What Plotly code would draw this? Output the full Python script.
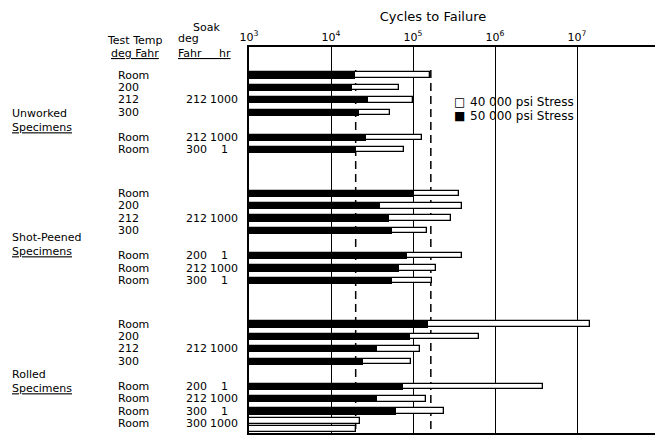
import plotly.graph_objects as go

# ---------------- data ----------------
group_names = ["Unworked", "Shot-Peened", "Rolled"]
row_group = [0, 0, 0, 0, 0, 0,
             1, 1, 1, 1, 1, 1, 1,
             2, 2, 2, 2, 2, 2, 2, 2]
row_block = [0, 0, 0, 0, 1, 1,
             0, 0, 0, 0, 1, 1, 1,
             0, 0, 0, 0, 1, 1, 1, 1]
test_temp = ["Room", "200", "212", "300", "Room", "Room",
             "Room", "200", "212", "300", "Room", "Room", "Room",
             "Room", "200", "212", "300", "Room", "Room", "Room", "Room"]
soak_temp = ["", "", "212", "", "212", "300",
             "", "", "212", "", "200", "212", "300",
             "", "", "212", "", "200", "212", "300", "300"]
soak_hr = ["", "", "1000", "", "1000", "1",
           "", "", "1000", "", "1", "1000", "1",
           "", "", "1000", "", "1", "1000", "1", "1000"]

# cycles to failure at 40 000 psi (open bars) and 50 000 psi (solid bars)
cycles_40k = [1.6e5, 6.8e4, 1.0e5, 5.3e4, 1.28e5, 7.8e4,
              3.6e5, 4.0e5, 2.9e5, 1.47e5, 4.0e5, 1.9e5, 1.69e5,
              1.44e7, 6.4e5, 1.22e5, 9.5e4, 3.9e6, 1.43e5, 2.39e5, 2.26e4]
cycles_40k_repeat = [None] * 20 + [2.0e4]
cycles_50k = [1.96e4, 1.79e4, 2.85e4, 2.2e4, 2.7e4, 2.0e4,
              1.03e5, 3.96e4, 5.1e4, 5.5e4, 8.5e4, 6.7e4, 5.6e4,
              1.54e5, 9.2e4, 3.6e4, 2.44e4, 7.5e4, 3.6e4, 6.2e4, None]

series_names = ["40 000 psi Stress", "50 000 psi Stress"]
dashed_levels = [2.0e4, 1.65e5]
tick_values = [1e3, 1e4, 1e5, 1e6, 1e7, 1e8]
tick_labels = ["10<sup>3</sup>", "10<sup>4</sup>", "10<sup>5</sup>",
               "10<sup>6</sup>", "10<sup>7</sup>", "10<sup>8</sup>"]

# ---------------- layout helpers ----------------
# the page body adds an 8px offset; the figure is sized so that the
# plot area lands at screen x 249..659, y 47..433 of the 663x435 window
OFF = 8
SW, SH = 663, 435
PL, PR, PT, PB = 249, 659, 47, 433
W, H = SW - OFF, SH - OFF
ML, MR, MT, MB = PL - OFF, SW - PR, PT - OFF, SH - PB
PW, PH = PR - PL, PB - PT
FONT = "DejaVu Sans"


def px_x(sx):
    return (sx - PL) / PW


def px_y(sy):
    return (PB - sy) / PH


# row positions (in row units) derived from the grouping
pos = []
p = 0.0
for i, (g, b) in enumerate(zip(row_group, row_block)):
    if i > 0:
        if g != row_group[i - 1]:
            p += 3.5
        elif b != row_block[i - 1]:
            p += 2.0
        else:
            p += 1.0
    pos.append(p)

y_top = pos[0] - 2.25
y_bot = pos[-1] + 0.75

open_w = 0.44
solid_w = 0.56
open_offset = [(-open_w / 2 if r is None else -0.42) for r in cycles_40k_repeat]

fig = go.Figure()
fig.add_trace(go.Bar(
    orientation="h", y=pos, x=cycles_40k, name=series_names[0],
    width=open_w, offset=open_offset, showlegend=False,
    marker=dict(color="white", line=dict(color="black", width=1.3)),
    hoverinfo="skip"))
fig.add_trace(go.Bar(
    orientation="h", y=pos, x=cycles_40k_repeat, name=series_names[0],
    width=open_w, offset=0.2, showlegend=False,
    marker=dict(color="white", line=dict(color="black", width=1.3)),
    hoverinfo="skip"))
fig.add_trace(go.Bar(
    orientation="h", y=pos, x=cycles_50k, name=series_names[1],
    width=solid_w, showlegend=False,
    marker=dict(color="black", line=dict(color="black", width=0)),
    hoverinfo="skip"))

shapes = []
for lvl in dashed_levels:
    shapes.append(dict(type="line", xref="x", yref="y", x0=lvl, x1=lvl,
                       y0=pos[0] - 0.4, y1=y_bot, layer="below",
                       line=dict(color="black", width=1.5, dash="8px,5px")))

ann = []
lab_font = dict(family=FONT, size=11, color="black")
for i, yp in enumerate(pos):
    if test_temp[i]:
        ann.append(dict(xref="paper", yref="y", x=px_x(116), y=yp, text=test_temp[i],
                        showarrow=False, xanchor="left", yanchor="middle", font=lab_font))
    if soak_temp[i]:
        ann.append(dict(xref="paper", yref="y", x=px_x(184), y=yp, text=soak_temp[i],
                        showarrow=False, xanchor="left", yanchor="middle", font=lab_font))
    if soak_hr[i]:
        ann.append(dict(xref="paper", yref="y", x=px_x(224), y=yp, text=soak_hr[i],
                        showarrow=False, xanchor="center", yanchor="middle", font=lab_font))

for gi, gname in enumerate(group_names):
    gpos = [yp for yp, g in zip(pos, row_group) if g == gi]
    ymid = (gpos[0] + gpos[-1]) / 2 + 0.65
    ann.append(dict(xref="paper", yref="y", x=px_x(10), y=ymid,
                    text=gname + "<br><u>Specimens</u>", align="left",
                    showarrow=False, xanchor="left", yanchor="middle", font=lab_font))

# column headers
hdr = [("Test Temp", 135, 41, "center"), ("<u>deg Fahr</u>", 135, 53, "center"),
       ("Soak", 206, 27, "center"), ("deg", 176, 39, "left"),
       ("<u>Fahr&nbsp;&nbsp;&nbsp;&nbsp;&nbsp;hr</u>", 176, 53, "left")]
for txt, hx, hy, anc in hdr:
    ann.append(dict(xref="paper", yref="paper", x=px_x(hx), y=px_y(hy), text=txt,
                    showarrow=False, xanchor=anc, yanchor="middle", font=lab_font))

# key (open / solid square + series name)
for k, (glyph, name) in enumerate(zip(["\u25a1", "\u25a0"], series_names)):
    ky = 102 + 14 * k
    ann.append(dict(xref="paper", yref="paper", x=px_x(466), y=px_y(ky), text=glyph,
                    showarrow=False, xanchor="right", yanchor="middle", borderpad=0,
                    font=dict(family=FONT, size=12, color="black")))
    ann.append(dict(xref="paper", yref="paper", x=px_x(469), y=px_y(ky), text=name,
                    showarrow=False, xanchor="left", yanchor="middle", borderpad=0,
                    font=dict(family=FONT, size=12, color="black")))

fig.update_layout(
    width=W, height=H,
    margin=dict(l=ML, r=MR, t=MT, b=MB, autoexpand=False),
    paper_bgcolor="white", plot_bgcolor="white",
    barmode="overlay", bargap=0, showlegend=False,
    font=dict(family=FONT, size=11, color="black"),
    title=dict(text="Cycles to Failure", xref="paper", x=px_x(433), xanchor="center",
               yref="container", y=1 - (16 - OFF) / H, yanchor="middle",
               font=dict(family=FONT, size=13, color="black")),
    xaxis=dict(type="log", side="top", range=[3, 8],
               tickvals=tick_values, ticktext=tick_labels,
               ticks="", showgrid=True, gridcolor="black", gridwidth=1,
               showline=True, linecolor="black", linewidth=1.5, mirror=True,
               zeroline=False, automargin=False,
               tickfont=dict(family=FONT, size=11, color="black")),
    yaxis=dict(range=[y_bot, y_top], showticklabels=False, ticks="",
               showgrid=False, zeroline=False, showline=True,
               linecolor="black", linewidth=2, mirror=True, automargin=False),
    shapes=shapes,
    annotations=ann,
)

fig.write_html("out.html")
